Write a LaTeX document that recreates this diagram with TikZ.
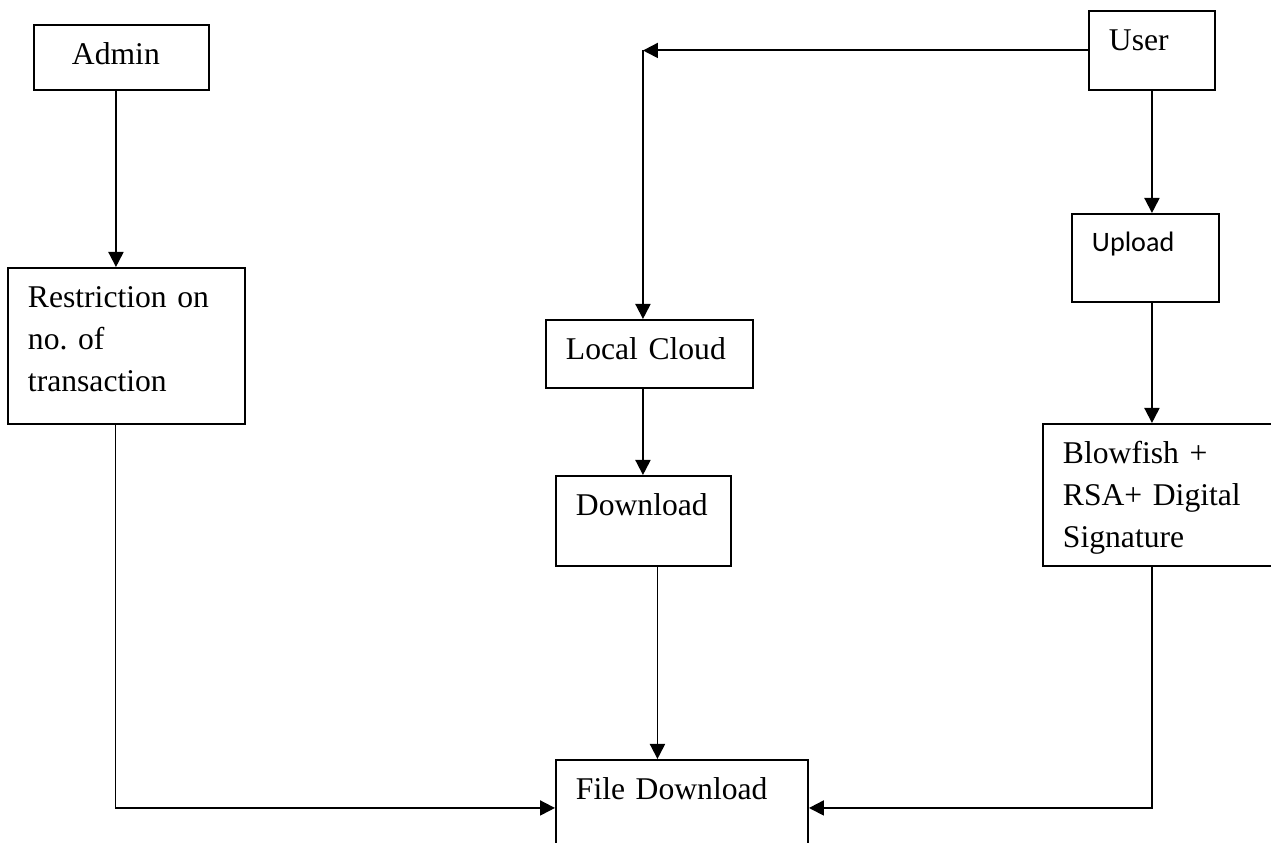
\documentclass[tikz,border=0pt]{standalone}
\usepackage{fontspec}
\setmainfont{Liberation Serif}
\newfontfamily\calibri{Carlito}
\usetikzlibrary{positioning, arrows.meta, calc}
\frenchspacing

\begin{document}
\begin{tikzpicture}[
  x=0.2mm, y=-0.2mm,
  >={Triangle[length=0.3cm, width=0.3cm]},
  every node/.style={font=\fontsize{18}{23.8}\selectfont},
  box/.style={draw, line width=1.1pt, anchor=north west, align=left,
    inner xsep=0.4cm, inner ysep=0.3cm, text height=0.5cm},
  flow/.style={->, line width=1.1pt}
]
\useasboundingbox (0,0) rectangle (1271,843);

% Left column: admin side
\node[box, inner xsep=0.76cm, text width=1.98cm, text depth=0.2cm] (admin) at (33,24) {Admin};
\node[box, text width=3.94cm, text depth=2.02cm] (restr) at (7,267) {Restriction on\\no. of\\transaction};

% Middle column: download path
\node[box, text width=3.34cm, text depth=0.26cm] (local) at (545,319) {Local Cloud};
\node[box, text width=2.7cm, text depth=0.7cm] (down) at (555,475) {Download};
\node[box, text width=4.24cm, text depth=0.82cm] (file) at (555,759) {File Download};

% Right column: user side
\node[box, text width=1.72cm, text depth=0.48cm] (user) at (1088,10) {User};
\node[box, font=\calibri\fontsize{16}{20}\selectfont, text width=2.14cm,
  text height=0.46cm, text depth=0.7cm] (upload) at (1071,213) {Upload};
\node[box, text width=4.16cm, text depth=1.74cm] (blow) at (1042,423) {Blowfish +\\RSA+ Digital\\Signature};

\coordinate (split) at ([xshift=-0.13cm]local.north |- user.west);

% Arrows
\draw[flow] ([xshift=-0.11cm]admin.south) -- ([xshift=-0.11cm]admin.south |- restr.north);
\draw[flow] (user.west) -- (split);
\draw[flow] (split) -- (split |- local.north);
\draw[flow] (user.south) -- (user.south |- upload.north);
\draw[flow] (user.south |- upload.south) -- (user.south |- blow.north);
\draw[flow] (split |- local.south) -- (split |- down.north);
\draw[flow] ([xshift=0.28cm]down.south) -- ([xshift=0.28cm]down.south |- file.north);

% Into file download
\draw[flow] ([xshift=-0.22cm]restr.south) |- (file.west);
\draw[flow] (user.south |- blow.south) |- (file.east);

\end{tikzpicture}
\end{document}
